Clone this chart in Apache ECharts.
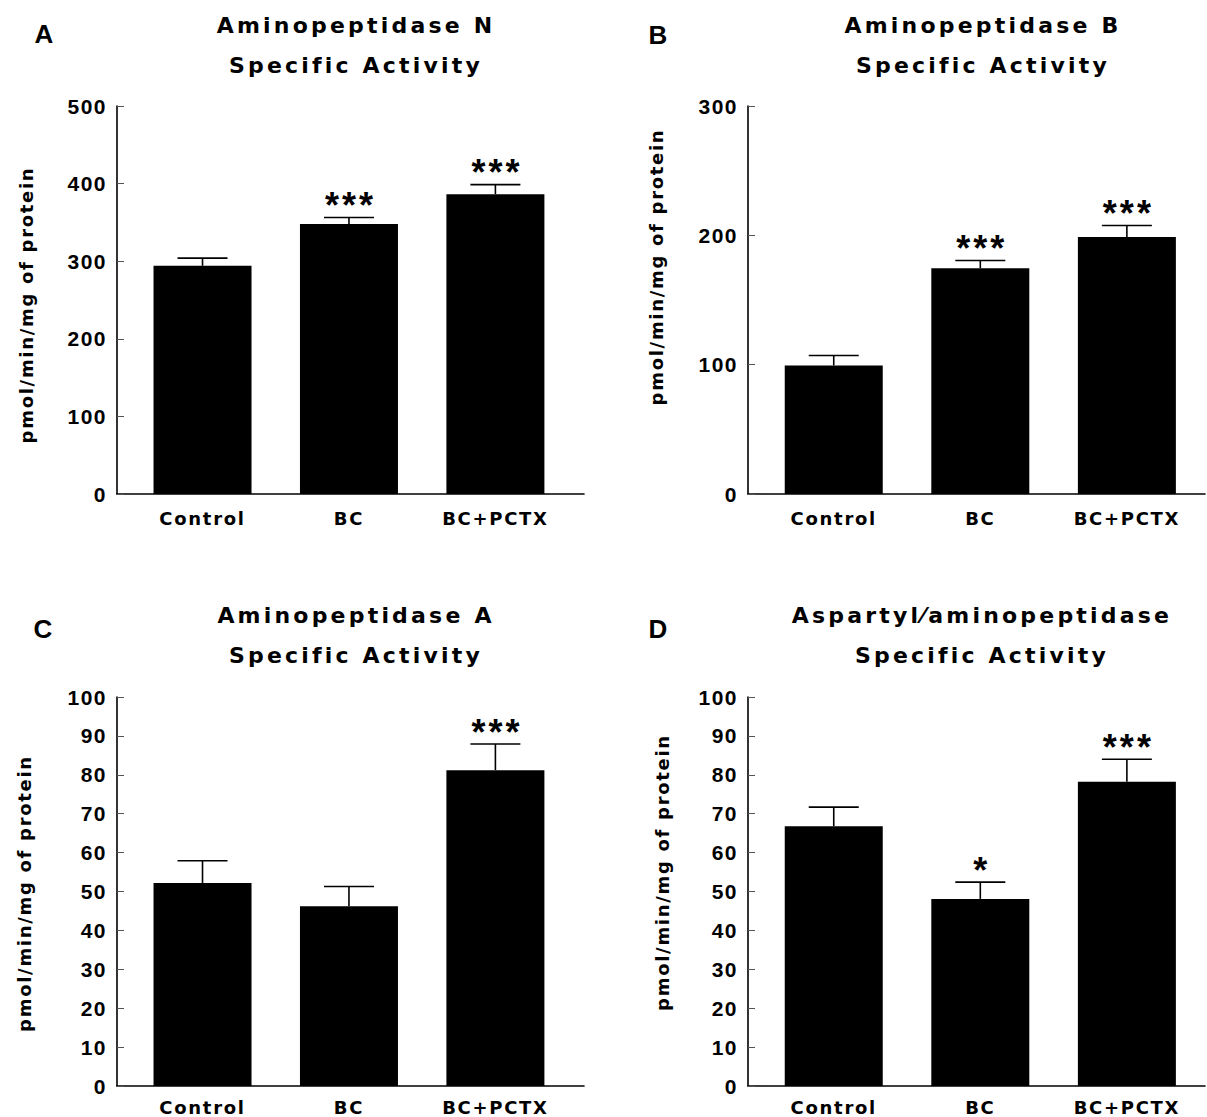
<!DOCTYPE html>
<html>
<head>
<meta charset="utf-8">
<script src="https://cdn.jsdelivr.net/npm/echarts@6/dist/echarts.min.js"></script>
<style>
  html, body { margin: 0; padding: 0; background: #fff; }
  #chart { width: 1207px; height: 1117px; }
  #chart text[style*="22px"] { letter-spacing: 3.2px; }
  #chart text[style*="21px"] { letter-spacing: 1.5px; }
  #chart text[style*="18px"] { letter-spacing: 1.7px; }
  #chart text[style*="36px"] { letter-spacing: 3px; }
</style>
</head>
<body>
<div id="chart"></div>
<script>
// ---------------- data ----------------
const categories = ['Control', 'BC', 'BC+PCTX'];
const yAxisName = 'pmol/min/mg of protein';

const panelLetters = ['A', 'B', 'C', 'D'];

const titleA = ['Aminopeptidase N', 'Specific Activity'];
const valuesA = [294, 347.8, 386.3];
const semA = [10, 8.5, 12.4];
const sigA = ['', '***', '***'];
const ticksA = [0, 100, 200, 300, 400, 500];

const titleB = ['Aminopeptidase B', 'Specific Activity'];
const valuesB = [99.4, 174.6, 198.8];
const semB = [7.7, 5.9, 8.8];
const sigB = ['', '***', '***'];
const ticksB = [0, 100, 200, 300];

const titleC = ['Aminopeptidase A', 'Specific Activity'];
const valuesC = [52.2, 46.2, 81.2];
const semC = [5.7, 5.1, 6.7];
const sigC = ['', '', '***'];
const ticksC = [0, 10, 20, 30, 40, 50, 60, 70, 80, 90, 100];

const titleD = ['Aspartyl\u2044aminopeptidase', 'Specific Activity'];
const valuesD = [66.8, 48.1, 78.2];
const semD = [4.9, 4.3, 5.8];
const sigD = ['', '*', '***'];
const ticksD = [0, 10, 20, 30, 40, 50, 60, 70, 80, 90, 100];

// ---------------- layout ----------------
const FONT = '"Liberation Sans", Arial, Helvetica, sans-serif';
const FONT_TXT = '"DejaVu Sans", "Liberation Sans", sans-serif';
const layouts = [
  { grid: { left: 117, top: 106, width: 467, height: 388 }, xr: [-0.584, 2.605], nameGap: 82, namePad: [0, 10, 0, 0], titleX: 356, titleTop: 5, letterX: 44, letterTop: 21, xMargin: 15 },
  { grid: { left: 748, top: 106, width: 457, height: 388 }, xr: [-0.585, 2.533], nameGap: 83, namePad: [0, 0, 0, 66], titleX: 983, titleTop: 5, letterX: 658, letterTop: 22, xMargin: 15 },
  { grid: { left: 117, top: 697, width: 467, height: 389 }, xr: [-0.584, 2.605], nameGap: 84, namePad: [0, 4, 0, 0], titleX: 356, titleTop: 595, letterX: 43, letterTop: 616, xMargin: 12 },
  { grid: { left: 748, top: 697, width: 457, height: 389 }, xr: [-0.585, 2.533], nameGap: 77, namePad: [0, 0, 0, 38], titleX: 982, titleTop: 595, letterX: 658, letterTop: 616, xMargin: 12 }
];

const panels = [
  { title: titleA, values: valuesA, sem: semA, sig: sigA, ticks: ticksA },
  { title: titleB, values: valuesB, sem: semB, sig: sigB, ticks: ticksB },
  { title: titleC, values: valuesC, sem: semC, sig: sigC, ticks: ticksC },
  { title: titleD, values: valuesD, sem: semD, sig: sigD, ticks: ticksD }
];

function errRender(sig) {
  return function (params, api) {
    const i = api.value(0), v = api.value(1), e = api.value(2);
    const base = api.coord([i, v]);
    const top = api.coord([i, v + e]);
    const half = 25;
    const children = [
      { type: 'line', shape: { x1: base[0], y1: base[1], x2: top[0], y2: top[1] }, style: { stroke: '#000', lineWidth: 1.6 } },
      { type: 'line', shape: { x1: top[0] - half, y1: top[1], x2: top[0] + half, y2: top[1] }, style: { stroke: '#000', lineWidth: 1.6 } }
    ];
    const s = sig[params.dataIndex];
    if (s) {
      children.push({
        type: 'text', x: top[0] + 1.5, y: top[1] - 12,
        style: { text: s, font: 'bold 36px ' + FONT, fill: '#000', align: 'center', verticalAlign: 'middle' }
      });
    }
    return { type: 'group', children: children };
  };
}

const option = { animation: false, backgroundColor: '#fff', title: [], grid: [], xAxis: [], yAxis: [], series: [] };

panels.forEach(function (p, k) {
  const L = layouts[k];
  option.grid.push(Object.assign({ outerBoundsMode: 'none', containLabel: false }, L.grid));
  option.title.push({
    text: p.title.join('\n'), left: L.titleX, top: L.titleTop, textAlign: 'center', padding: 0,
    textStyle: { fontFamily: FONT_TXT, fontSize: 22, fontWeight: 'bold', color: '#000', lineHeight: 40 }
  });
  option.title.push({
    text: panelLetters[k], left: L.letterX, top: L.letterTop, textAlign: 'center', padding: 0,
    textStyle: { fontFamily: FONT, fontSize: 26, fontWeight: 'bold', color: '#000', lineHeight: 26 }
  });
  option.xAxis.push({
    type: 'value', gridIndex: k, min: L.xr[0], max: L.xr[1],
    axisLine: { show: true, onZero: false, lineStyle: { color: '#000', width: 1.6 } },
    axisTick: { show: false },
    splitLine: { show: false },
    axisLabel: {
      customValues: categories.map(function (c, i) { return i; }),
      formatter: function (v) { return categories[Math.round(v)] || ''; },
      fontFamily: FONT_TXT, fontSize: 18, fontWeight: 'bold', color: '#000', margin: L.xMargin
    }
  });
  const t = p.ticks;
  option.yAxis.push({
    type: 'value', gridIndex: k, min: t[0], max: t[t.length - 1], interval: t[1] - t[0],
    name: yAxisName, nameLocation: 'middle', nameGap: L.nameGap,
    nameTextStyle: { fontFamily: FONT_TXT, fontSize: 18, fontWeight: 'bold', color: '#000', padding: L.namePad },
    axisLine: { show: true, onZero: false, lineStyle: { color: '#000', width: 1.6 } },
    axisTick: { show: true, inside: true, length: 7, lineStyle: { color: '#555', width: 1 } },
    splitLine: { show: false },
    axisLabel: { fontFamily: FONT, fontSize: 21, fontWeight: 'bold', color: '#000', margin: 10 }
  });
  option.series.push({
    type: 'bar', xAxisIndex: k, yAxisIndex: k, barWidth: 98,
    itemStyle: { color: '#000' },
    data: p.values.map(function (v, i) { return [i, v]; })
  });
  option.series.push({
    type: 'custom', xAxisIndex: k, yAxisIndex: k, z: 5, clip: false,
    renderItem: errRender(p.sig),
    data: p.values.map(function (v, i) { return [i, v, p.sem[i]]; })
  });
});

const chart = echarts.init(document.getElementById('chart'), null, { renderer: 'svg' });
chart.setOption(option);
</script>
</body>
</html>
